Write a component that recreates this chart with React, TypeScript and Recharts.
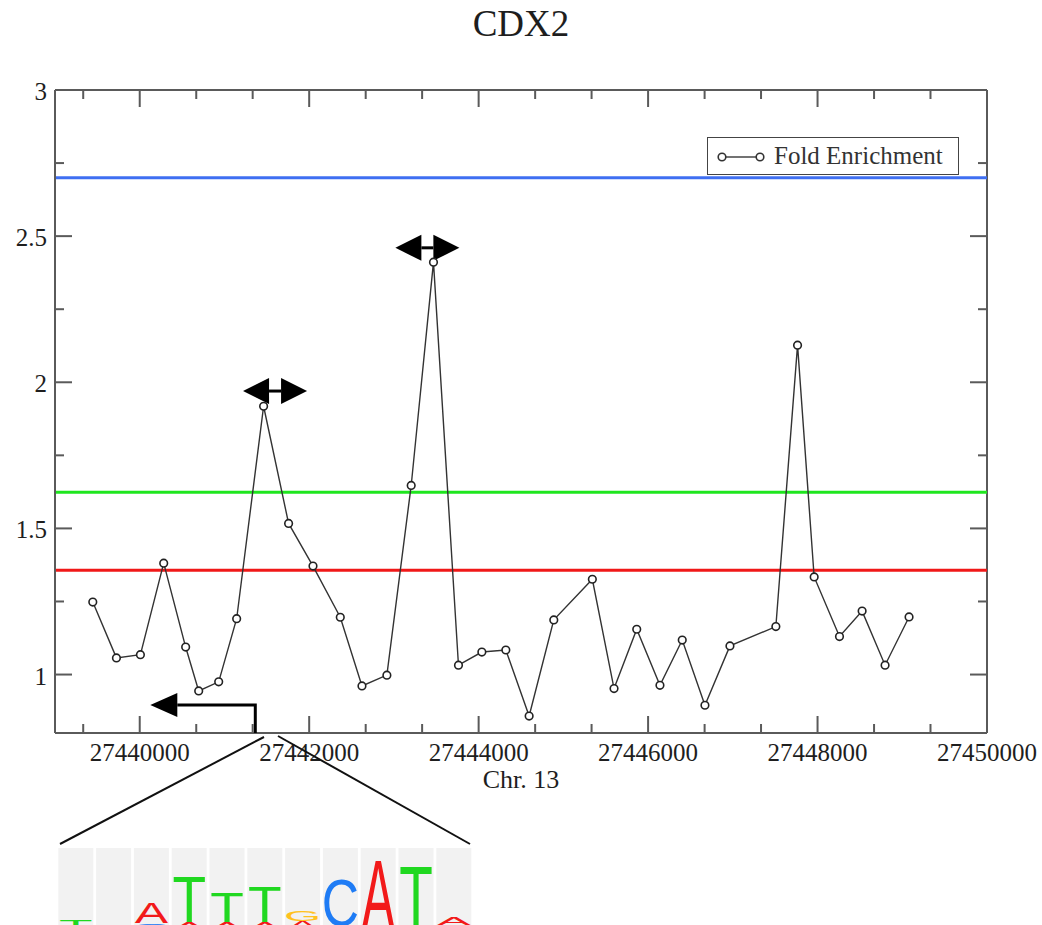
import {
  LineChart,
  Line,
  XAxis,
  YAxis,
  ReferenceLine,
  ReferenceDot,
  Legend,
  Label,
} from "recharts";

// probe positions on chr13 and the enrichment measured at each
const positions = [
  27439446, 27439725, 27440008, 27440283, 27440542, 27440696, 27440932,
  27441144, 27441462, 27441757, 27442045, 27442367, 27442623, 27442917,
  27443204, 27443467, 27443762, 27444038, 27444321, 27444596, 27444887,
  27445342, 27445598, 27445866, 27446140, 27446403, 27446671, 27446966,
  27447508, 27447764, 27447960, 27448259, 27448526, 27448797, 27449080,
];
const foldEnrichment = [
  1.248, 1.057, 1.068, 1.381, 1.094, 0.944, 0.975, 1.191, 1.918, 1.517,
  1.371, 1.196, 0.961, 0.998, 1.647, 2.411, 1.032, 1.077, 1.084, 0.858,
  1.187, 1.326, 0.952, 1.155, 0.963, 1.118, 0.895, 1.098, 1.164, 2.127,
  1.334, 1.13, 1.217, 1.032, 1.197,
];

// cut-off levels (blue, green, red)
const thresholds = [2.7, 1.624, 1.357];

const xTicks = [
  27439333, 27440000, 27440667, 27441333, 27442000, 27442667, 27443333,
  27444000, 27444667, 27445333, 27446000, 27446667, 27447333, 27448000,
  27448667, 27449333, 27450000,
];
const xLabelTicks = [27440000, 27442000, 27444000, 27446000, 27448000, 27450000];
const yTicks = [1, 1.25, 1.5, 1.75, 2, 2.25, 2.5, 2.75, 3];
const yLabelTicks = [1, 1.5, 2, 2.5, 3];

// binding sites marked with double arrows, and the transcription start
const siteMarks = [
  { pos: 27441597, level: 1.97 },
  { pos: 27443395, level: 2.46 },
];
const tssPos = 27441364;

// motif logo: letter stacks per column, bottom to top
const logoColumns = [
  [{ b: "T", h: 11 }],
  [],
  [{ b: "C", h: 7 }, { b: "A", h: 21 }],
  [{ b: "A", h: 8 }, { b: "T", h: 47 }],
  [{ b: "A", h: 8 }, { b: "T", h: 30 }],
  [{ b: "A", h: 8 }, { b: "T", h: 36 }],
  [{ b: "A", h: 9 }, { b: "G", h: 11 }],
  [{ b: "A", h: 4 }, { b: "C", h: 48 }],
  [{ b: "A", h: 72 }],
  [{ b: "T", h: 65 }],
  [{ b: "T", h: 5 }, { b: "A", h: 8 }],
];

const data = positions.map((pos, i) => ({ pos, fold: foldEnrichment[i] }));

const W = 1042;
const H = 925;
const PLOT_LEFT = 55;
const PLOT_RIGHT = 987;
const PLOT_TOP = 90;
const PLOT_BOTTOM = 733;
const AXIS = "#5a5a5a";
const INK = "#1e1e1e";
const thresholdColors = ["#3f6ff2", "#1ee61e", "#f01818"];
const baseColors: Record<string, string> = {
  A: "#f21a1a",
  C: "#1f7cf5",
  G: "#ffc21f",
  T: "#20d820",
};
const glyphWidth: Record<string, number> = { A: 0.66, C: 0.64, G: 0.69, T: 0.6 };

const XTick = (props: any) => {
  const { x, payload } = props;
  const major = xLabelTicks.includes(payload.value);
  const len = major ? 17 : 9;
  return (
    <g>
      <line x1={x} x2={x} y1={PLOT_BOTTOM} y2={PLOT_BOTTOM - len} stroke={AXIS} strokeWidth={2} />
      <line x1={x} x2={x} y1={PLOT_TOP} y2={PLOT_TOP + len} stroke={AXIS} strokeWidth={2} />
      {major && (
        <text x={x} y={761} textAnchor="middle" fontSize={25} fill={INK}>
          {payload.value}
        </text>
      )}
    </g>
  );
};

const YTick = (props: any) => {
  const { y, payload } = props;
  const major = yLabelTicks.includes(payload.value);
  const len = major ? 17 : 9;
  return (
    <g>
      <line x1={PLOT_LEFT} x2={PLOT_LEFT + len} y1={y} y2={y} stroke={AXIS} strokeWidth={2} />
      <line x1={PLOT_RIGHT} x2={PLOT_RIGHT - len} y1={y} y2={y} stroke={AXIS} strokeWidth={2} />
      {major && (
        <text x={47} y={y + 10} textAnchor="end" fontSize={25} fill={INK}>
          {payload.value}
        </text>
      )}
    </g>
  );
};

const DoubleArrow = (props: any) => {
  const { cx, cy } = props;
  const tip = 32;
  const base = 6;
  const half = 13;
  return (
    <g fill="#000">
      <polygon points={`${cx - tip},${cy} ${cx - base},${cy - half} ${cx - base},${cy + half}`} />
      <polygon points={`${cx + tip},${cy} ${cx + base},${cy - half} ${cx + base},${cy + half}`} />
      <rect x={cx - base} y={cy - 1.5} width={base * 2} height={3} />
    </g>
  );
};

const TssArrow = (props: any) => {
  const { cx, cy } = props;
  const top = cy - 28;
  return (
    <g>
      <polyline
        points={`${cx},${cy} ${cx},${top} ${cx - 78},${top}`}
        fill="none"
        stroke="#000"
        strokeWidth={3}
      />
      <polygon points={`${cx - 105},${top} ${cx - 78},${top - 12} ${cx - 78},${top + 12}`} fill="#000" />
    </g>
  );
};

const LegendBox = (props: any) => {
  const item = props.payload && props.payload[0];
  return (
    <div
      style={{
        boxSizing: "border-box",
        width: 252,
        height: 38,
        border: "1.5px solid #444",
        background: "#fff",
        display: "flex",
        alignItems: "center",
        fontFamily: "'Liberation Serif', serif",
      }}
    >
      <svg width={66} height={36}>
        <line x1={14} x2={52} y1={19} y2={19} stroke="#444" strokeWidth={1.5} />
        <circle cx={14} cy={19} r={3.8} fill="#fff" stroke="#333" strokeWidth={1.6} />
        <circle cx={52} cy={19} r={3.8} fill="#fff" stroke="#333" strokeWidth={1.6} />
      </svg>
      <span style={{ fontSize: 25, color: "#333", lineHeight: "36px", whiteSpace: "nowrap" }}>
        {item ? item.value : ""}
      </span>
    </div>
  );
};

const MotifLogo = () => {
  const left = 58.3;
  const pitch = 37.8;
  const colW = 35;
  const top = 848;
  const bottom = 930;
  return (
    <g>
      <line x1={264} y1={737} x2={60} y2={844} stroke="#111" strokeWidth={2} />
      <line x1={278} y1={736} x2={470} y2={844} stroke="#111" strokeWidth={2} />
      {logoColumns.map((stack, i) => {
        const x = left + i * pitch;
        let y = bottom;
        return (
          <g key={`col-${i}`}>
            <rect x={x} y={top} width={colW} height={bottom - top} fill="#f2f2f2" />
            {stack.map((s, j) => {
              const sx = (colW - 2) / (glyphWidth[s.b] * 100);
              const sy = s.h / 71.6;
              const yb = y;
              y -= s.h;
              return (
                <text
                  key={`l-${i}-${j}`}
                  transform={`translate(${x + colW / 2},${yb}) scale(${sx},${sy})`}
                  textAnchor="middle"
                  fontSize={100}
                  fontFamily="'Liberation Sans', Arial, sans-serif"
                  fill={baseColors[s.b]}
                >
                  {s.b}
                </text>
              );
            })}
          </g>
        );
      })}
    </g>
  );
};

export default function App() {
  return (
    <div
      style={{
        position: "absolute",
        left: 0,
        top: 0,
        width: W,
        height: H,
        background: "#fff",
        overflow: "hidden",
        fontFamily: "'Liberation Serif', 'Times New Roman', serif",
      }}
    >
      <LineChart
        width={W}
        height={H}
        data={data}
        margin={{ top: PLOT_TOP, right: W - PLOT_RIGHT, left: 0, bottom: 0 }}
      >
        <XAxis
          dataKey="pos"
          type="number"
          domain={[27439000, 27450000]}
          ticks={xTicks}
          interval={0}
          height={H - PLOT_BOTTOM}
          tickLine={false}
          tick={<XTick />}
          axisLine={{ stroke: AXIS, strokeWidth: 2 }}
        >
          <Label
            value="Chr. 13"
            position="insideTop"
            offset={37}
            style={{ fontSize: 26, fill: INK }}
          />
        </XAxis>
        <YAxis
          type="number"
          domain={[0.8, 3]}
          ticks={yTicks}
          interval={0}
          width={PLOT_LEFT}
          tickLine={false}
          tick={<YTick />}
          axisLine={{ stroke: AXIS, strokeWidth: 2 }}
        />
        <ReferenceLine y={3} stroke={AXIS} strokeWidth={2} />
        <ReferenceLine x={27450000} stroke={AXIS} strokeWidth={2} />
        {thresholds.map((t, i) => (
          <ReferenceLine key={`thr-${i}`} y={t} stroke={thresholdColors[i]} strokeWidth={3} />
        ))}
        <Legend
          layout="vertical"
          align="center"
          verticalAlign="middle"
          content={<LegendBox />}
          wrapperStyle={{ left: 707, top: 137, width: 252, height: 38 }}
        />
        <Line
          name="Fold Enrichment"
          dataKey="fold"
          type="linear"
          stroke="#333"
          strokeWidth={1.4}
          dot={{ r: 3.8, fill: "#fff", stroke: "#222", strokeWidth: 1.6 }}
          activeDot={false}
          isAnimationActive={false}
        />
        {siteMarks.map((m, i) => (
          <ReferenceDot key={`site-${i}`} x={m.pos} y={m.level} shape={<DoubleArrow />} />
        ))}
        <ReferenceDot x={tssPos} y={0.8} shape={<TssArrow />} />
      </LineChart>
      <svg
        width={W}
        height={H}
        style={{ position: "absolute", left: 0, top: 0, pointerEvents: "none" }}
      >
        <text x={521} y={36} textAnchor="middle" fontSize={37} fill={INK}>
          CDX2
        </text>
        <MotifLogo />
      </svg>
    </div>
  );
}
